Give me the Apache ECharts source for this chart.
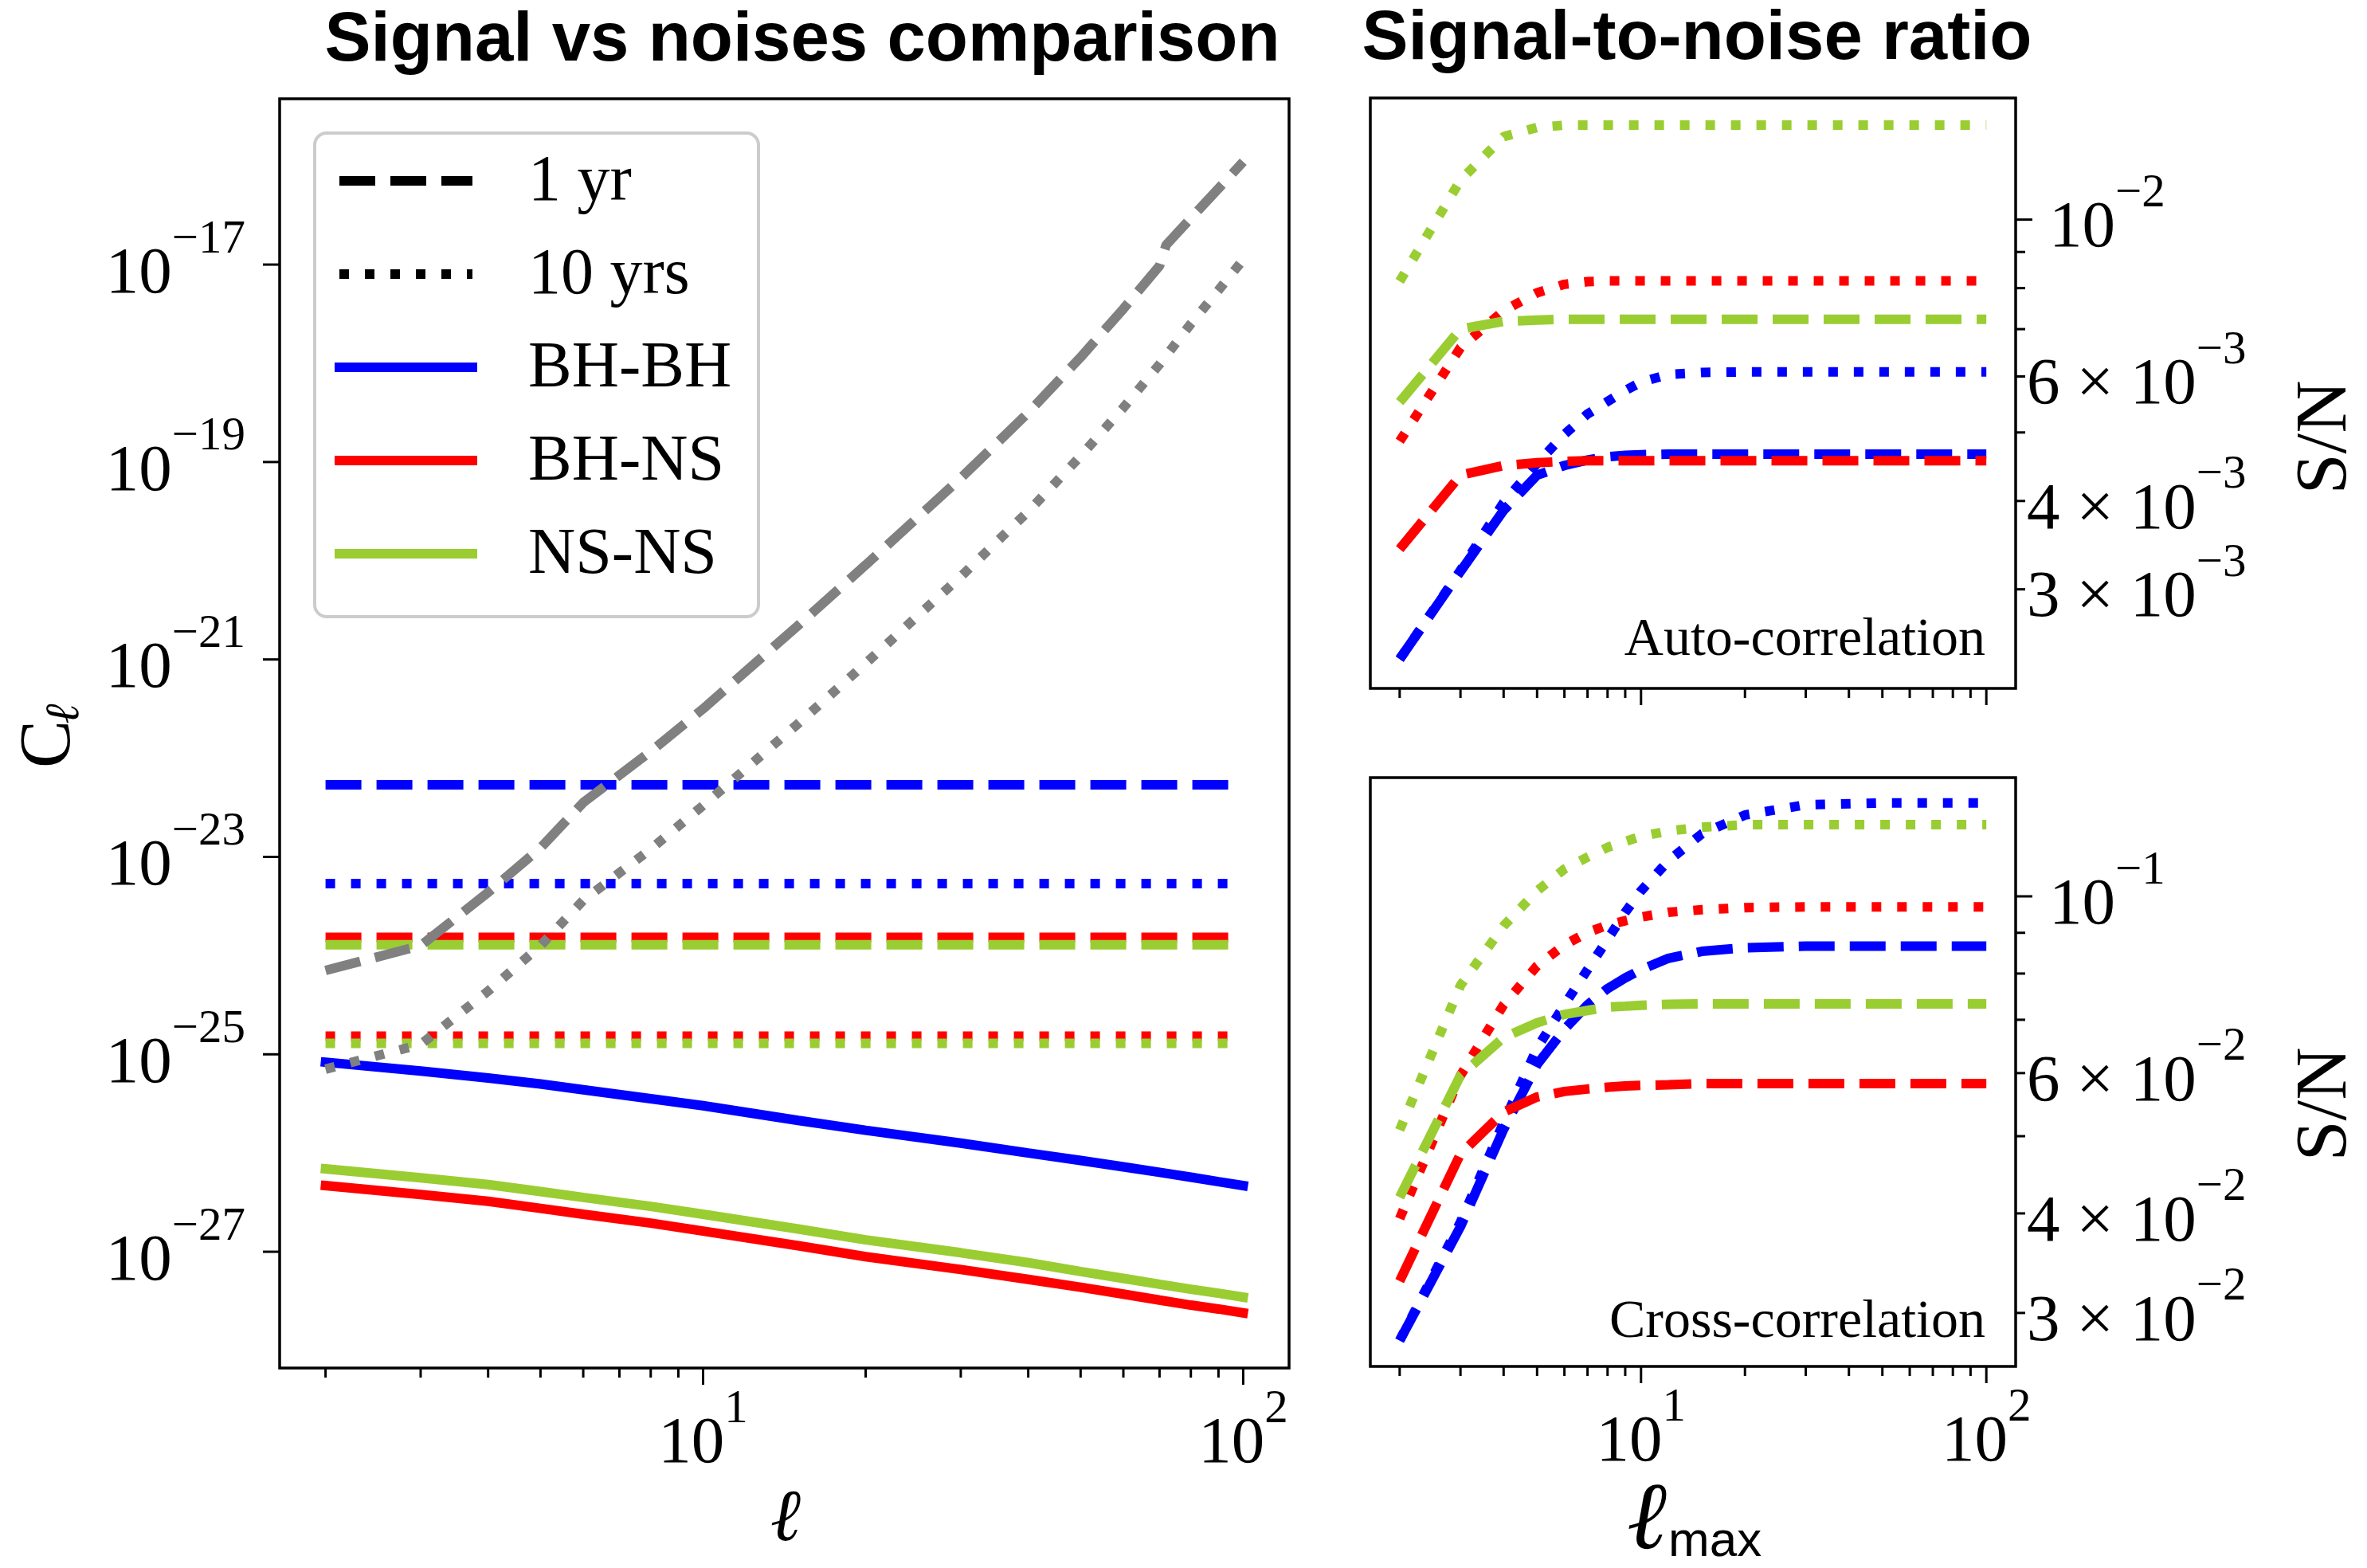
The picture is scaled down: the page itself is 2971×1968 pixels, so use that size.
<!DOCTYPE html>
<html>
<head>
<meta charset="utf-8">
<title>Signal vs noises comparison</title>
<script src="https://cdn.jsdelivr.net/npm/echarts@6/dist/echarts.min.js"></script>
<style>
  html, body { margin: 0; padding: 0; background: #fff; }
  #main { width: 2971px; height: 1968px; }
</style>
</head>
<body>
<div id="main"></div>
<script>
// ---- left panel: angular power spectra ----
const ell = [2, 3, 4, 5, 6, 8, 10, 15, 20, 30, 40, 50, 60, 70, 80, 90, 100];
const ellNoise1yr = [2, 3, 4, 5, 6, 8, 10, 15, 20, 30, 40, 50, 60, 70, 72, 80, 90, 100];
const ellSpan = [2, 100];

// signal C_l
const clBHBH = [8.32e-26, 6.76e-26, 5.75e-26, 5.01e-26, 4.37e-26, 3.55e-26, 3.02e-26, 2.14e-26, 1.70e-26, 1.26e-26, 1.00e-26, 8.41e-27, 7.24e-27, 6.38e-27, 5.69e-27, 5.13e-27, 4.68e-27];
const clBHNS = [4.68e-27, 3.80e-27, 3.24e-27, 2.75e-27, 2.40e-27, 1.95e-27, 1.62e-27, 1.15e-27, 8.91e-28, 6.61e-28, 5.25e-28, 4.37e-28, 3.72e-28, 3.24e-28, 2.88e-28, 2.63e-28, 2.40e-28];
const clNSNS = [6.92e-27, 5.62e-27, 4.79e-27, 4.07e-27, 3.55e-27, 2.88e-27, 2.40e-27, 1.70e-27, 1.32e-27, 9.77e-28, 7.76e-28, 6.31e-28, 5.37e-28, 4.68e-28, 4.17e-28, 3.80e-28, 3.47e-28];

// instrumental noise (gray)
const noise1yr = [7.08e-25, 1.26e-24, 4.37e-24, 1.23e-23, 3.55e-23, 1.17e-22, 3.16e-22, 2.21e-21, 9.06e-21, 6.87e-20, 3.16e-19, 1.15e-18, 3.56e-18, 9.70e-18, 1.58e-17, 2.95e-17, 5.89e-17, 1.10e-16];
const noise10yr = [7.08e-26, 1.26e-25, 4.37e-25, 1.26e-24, 3.63e-24, 1.20e-23, 3.31e-23, 2.24e-22, 9.12e-22, 6.92e-21, 3.16e-20, 1.15e-19, 3.55e-19, 9.77e-19, 2.51e-18, 5.50e-18, 1.12e-17];

// shot noise levels [1 yr, 10 yrs]
const shotBHBH = [5.37e-23, 5.37e-24];
const shotBHNS = [1.53e-24, 1.53e-25];
const shotNSNS = [1.29e-24, 1.29e-25];

// ---- right panels: S/N vs l_max ----
const lmax = [2, 3, 4, 5, 6, 7, 8, 9, 10, 12, 15, 20, 30, 50, 100];

// auto-correlation
const autoBHBH1 = [2.39e-3, 3.18e-3, 3.88e-3, 4.35e-3, 4.49e-3, 4.57e-3, 4.62e-3, 4.64e-3, 4.65e-3, 4.66e-3, 4.66e-3, 4.66e-3, 4.66e-3, 4.66e-3, 4.66e-3];
const autoBHBH10 = [2.39e-3, 3.19e-3, 3.98e-3, 4.52e-3, 4.97e-3, 5.31e-3, 5.53e-3, 5.73e-3, 5.89e-3, 6.04e-3, 6.08e-3, 6.09e-3, 6.09e-3, 6.09e-3, 6.09e-3];
const autoBHNS1 = [3.42e-3, 4.35e-3, 4.49e-3, 4.53e-3, 4.55e-3, 4.56e-3, 4.56e-3, 4.56e-3, 4.56e-3, 4.56e-3, 4.56e-3, 4.56e-3, 4.56e-3, 4.56e-3, 4.56e-3];
const autoBHNS10 = [4.86e-3, 6.59e-3, 7.43e-3, 7.88e-3, 8.10e-3, 8.17e-3, 8.19e-3, 8.19e-3, 8.19e-3, 8.19e-3, 8.19e-3, 8.19e-3, 8.19e-3, 8.19e-3, 8.19e-3];
const autoNSNS1 = [5.52e-3, 7.00e-3, 7.18e-3, 7.21e-3, 7.23e-3, 7.23e-3, 7.23e-3, 7.23e-3, 7.23e-3, 7.23e-3, 7.23e-3, 7.23e-3, 7.23e-3, 7.23e-3, 7.23e-3];
const autoNSNS10 = [8.18e-3, 1.137e-2, 1.31e-2, 1.35e-2, 1.36e-2, 1.36e-2, 1.36e-2, 1.36e-2, 1.36e-2, 1.36e-2, 1.36e-2, 1.36e-2, 1.36e-2, 1.36e-2, 1.36e-2];

// cross-correlation
const crossBHBH1 = [2.77e-2, 3.85e-2, 5.10e-2, 6.15e-2, 6.81e-2, 7.31e-2, 7.66e-2, 7.90e-2, 8.09e-2, 8.36e-2, 8.53e-2, 8.62e-2, 8.66e-2, 8.66e-2, 8.66e-2];
const crossBHBH10 = [2.77e-2, 3.90e-2, 5.20e-2, 6.45e-2, 7.31e-2, 8.09e-2, 8.83e-2, 9.55e-2, 0.1016, 0.1108, 0.1198, 0.1265, 0.1303, 0.1310, 0.1310];
const crossBHNS1 = [3.29e-2, 4.75e-2, 5.36e-2, 5.60e-2, 5.69e-2, 5.73e-2, 5.76e-2, 5.78e-2, 5.79e-2, 5.80e-2, 5.82e-2, 5.82e-2, 5.82e-2, 5.82e-2, 5.82e-2];
const crossBHNS10 = [3.94e-2, 5.96e-2, 7.31e-2, 8.18e-2, 8.69e-2, 9.01e-2, 9.20e-2, 9.32e-2, 9.42e-2, 9.55e-2, 9.62e-2, 9.68e-2, 9.70e-2, 9.70e-2, 9.70e-2];
const crossNSNS1 = [4.19e-2, 5.96e-2, 6.65e-2, 6.94e-2, 7.11e-2, 7.19e-2, 7.26e-2, 7.28e-2, 7.30e-2, 7.32e-2, 7.33e-2, 7.33e-2, 7.33e-2, 7.33e-2, 7.33e-2];
const crossNSNS10 = [5.09e-2, 7.73e-2, 9.18e-2, 0.1016, 0.1082, 0.1120, 0.1152, 0.1172, 0.1189, 0.1208, 0.1221, 0.1230, 0.1230, 0.1230, 0.1230];

// ---- ticks ----
const xMajorTicks = [10, 100];
const xMinorTicks = [2, 3, 4, 5, 6, 7, 8, 9, 20, 30, 40, 50, 60, 70, 80, 90];
const xTickLabels = [[10, '', '1'], [100, '', '2']];
const leftYTicks = [[1e-17, '', '−17'], [1e-19, '', '−19'], [1e-21, '', '−21'], [1e-23, '', '−23'], [1e-25, '', '−25'], [1e-27, '', '−27']];
const autoYMajor = [1e-2];
const autoYMinor = [3e-3, 4e-3, 5e-3, 6e-3, 7e-3, 8e-3, 9e-3];
const autoYLabels = [[1e-2, '', '−2'], [6e-3, '6 × ', '−3'], [4e-3, '4 × ', '−3'], [3e-3, '3 × ', '−3']];
const crossYMajor = [1e-1];
const crossYMinor = [3e-2, 4e-2, 5e-2, 6e-2, 7e-2, 8e-2, 9e-2];
const crossYLabels = [[1e-1, '', '−1'], [6e-2, '6 × ', '−2'], [4e-2, '4 × ', '−2'], [3e-2, '3 × ', '−2']];

const legendRows = [
  ['1 yr', '#000', 'dash'],
  ['10 yrs', '#000', 'dot'],
  ['BH-BH', '#0000ff', 'solid'],
  ['BH-NS', '#ff0000', 'solid'],
  ['NS-NS', '#9acd32', 'solid']
];

const BLUE = '#0000ff', RED = '#ff0000', GREEN = '#9acd32', GRAY = '#808080';
const SERIF = '"Liberation Serif", "Times New Roman", "DejaVu Serif", serif';
const SANS = '"Liberation Sans", Arial, Helvetica, sans-serif';
const LW = 12;
const DASH = [45, 19];
const DOT = [12, 20];

// axis bounds of each panel (log scale)
const bounds = [
  { xMin: 1.6446, xMax: 121.6, yMin: 6.64e-29, yMax: 4.78e-16 },
  { xMin: 1.6446, xMax: 121.6, yMin: 2.1727e-3, yMax: 1.4859e-2 },
  { xMin: 1.6446, xMax: 121.6, yMin: 2.5704e-2, yMax: 0.14093 }
];

function zip(xs, ys) { return xs.map((x, i) => [x, ys[i]]); }

function lineSeries(gi, data, color, style) {
  const type = style === 'dash' ? DASH : style === 'dot' ? DOT : 'solid';
  return {
    type: 'line', xAxisIndex: gi, yAxisIndex: gi, data: data,
    symbol: 'none', silent: true, animation: false,
    lineStyle: { color: color, width: LW, type: type, cap: style === 'solid' ? 'square' : 'butt' }
  };
}

const series = [
  lineSeries(0, zip(ellSpan, [shotBHBH[0], shotBHBH[0]]), BLUE, 'dash'),
  lineSeries(0, zip(ellSpan, [shotBHBH[1], shotBHBH[1]]), BLUE, 'dot'),
  lineSeries(0, zip(ellSpan, [shotBHNS[0], shotBHNS[0]]), RED, 'dash'),
  lineSeries(0, zip(ellSpan, [shotBHNS[1], shotBHNS[1]]), RED, 'dot'),
  lineSeries(0, zip(ellSpan, [shotNSNS[0], shotNSNS[0]]), GREEN, 'dash'),
  lineSeries(0, zip(ellSpan, [shotNSNS[1], shotNSNS[1]]), GREEN, 'dot'),
  lineSeries(0, zip(ell, clBHBH), BLUE, 'solid'),
  lineSeries(0, zip(ell, clBHNS), RED, 'solid'),
  lineSeries(0, zip(ell, clNSNS), GREEN, 'solid'),
  lineSeries(0, zip(ellNoise1yr, noise1yr), GRAY, 'dash'),
  lineSeries(0, zip(ell, noise10yr), GRAY, 'dot'),

  lineSeries(1, zip(lmax, autoBHBH1), BLUE, 'dash'),
  lineSeries(1, zip(lmax, autoBHBH10), BLUE, 'dot'),
  lineSeries(1, zip(lmax, autoBHNS1), RED, 'dash'),
  lineSeries(1, zip(lmax, autoBHNS10), RED, 'dot'),
  lineSeries(1, zip(lmax, autoNSNS1), GREEN, 'dash'),
  lineSeries(1, zip(lmax, autoNSNS10), GREEN, 'dot'),

  lineSeries(2, zip(lmax, crossBHBH1), BLUE, 'dash'),
  lineSeries(2, zip(lmax, crossBHBH10), BLUE, 'dot'),
  lineSeries(2, zip(lmax, crossBHNS1), RED, 'dash'),
  lineSeries(2, zip(lmax, crossBHNS10), RED, 'dot'),
  lineSeries(2, zip(lmax, crossNSNS1), GREEN, 'dash'),
  lineSeries(2, zip(lmax, crossNSNS10), GREEN, 'dot')
];

const hidden = { axisLine: { show: false }, axisTick: { show: false }, axisLabel: { show: false }, splitLine: { show: false } };
const frame = { show: true, borderColor: '#000', borderWidth: 3.5, backgroundColor: 'transparent' };

const option = {
  backgroundColor: '#fff',
  animation: false,
  grid: [
    Object.assign({ left: 351, top: 124, width: 1267, height: 1593 }, frame),
    Object.assign({ left: 1720, top: 123, width: 810, height: 741 }, frame),
    Object.assign({ left: 1720, top: 976, width: 810, height: 739 }, frame)
  ],
  xAxis: bounds.map((b, i) => Object.assign({ type: 'log', logBase: 10, gridIndex: i, min: b.xMin, max: b.xMax }, hidden)),
  yAxis: bounds.map((b, i) => Object.assign({ type: 'log', logBase: 10, gridIndex: i, min: b.yMin, max: b.yMax }, hidden)),
  series: series
};

const chart = echarts.init(document.getElementById('main'));
chart.setOption(option);

// ---- decorations: ticks, labels, legend, titles ----
const g = [];
function seg(x1, y1, x2, y2, w) {
  g.push({ type: 'line', silent: true, z: 50, shape: { x1: x1, y1: y1, x2: x2, y2: y2 }, style: { stroke: '#000', lineWidth: w || 3 } });
}
function txt(x, y, text, s, rotation) {
  g.push({
    type: 'text', x: x, y: y, rotation: rotation || 0, silent: true, z: 50,
    style: Object.assign({ text: text, fill: '#000', align: 'center', verticalAlign: 'middle', fontFamily: SERIF }, s)
  });
}
function powLabel(x, y, mant, exp, align) {
  g.push({
    type: 'text', x: x, y: y, silent: true, z: 50,
    style: {
      text: '{b|' + mant + '10}{s|' + exp + '}',
      align: align, verticalAlign: 'middle',
      rich: {
        b: { fontFamily: SERIF, fontSize: 83, lineHeight: 147, fill: '#000' },
        s: { fontFamily: SERIF, fontSize: 59, padding: [0, 0, 88, 0], fill: '#000' }
      }
    }
  });
}
const px = (gi, x, y) => chart.convertToPixel({ gridIndex: gi }, [x, y]);
const MAJ = 21, MIN = 12;

bounds.forEach((b, gi) => {
  xMajorTicks.forEach(v => { const p = px(gi, v, b.yMin); seg(p[0], p[1], p[0], p[1] + MAJ); });
  xMinorTicks.forEach(v => { const p = px(gi, v, b.yMin); seg(p[0], p[1], p[0], p[1] + MIN); });
  if (gi !== 1) {
    xTickLabels.forEach(t => { const p = px(gi, t[0], b.yMin); powLabel(p[0], p[1] + 96, t[1], t[2], 'center'); });
  }
});

leftYTicks.forEach(t => {
  const p = px(0, bounds[0].xMin, t[0]);
  seg(p[0], p[1], p[0] - MAJ, p[1]);
  powLabel(p[0] - 43, p[1] + 13, t[1], t[2], 'right');
});

function rightAxis(gi, major, minor, labels) {
  const b = bounds[gi];
  major.forEach(v => { const p = px(gi, b.xMax, v); seg(p[0], p[1], p[0] + MAJ, p[1]); });
  minor.forEach(v => { const p = px(gi, b.xMax, v); seg(p[0], p[1], p[0] + MIN, p[1]); });
  labels.forEach(t => {
    const p = px(gi, b.xMax, t[0]);
    powLabel(p[0] + (t[1] ? 14 : 42), p[1] + 12, t[1], t[2], 'left');
  });
}
rightAxis(1, autoYMajor, autoYMinor, autoYLabels);
rightAxis(2, crossYMajor, crossYMinor, crossYLabels);

// titles
txt(1007, 52, 'Signal vs noises comparison', { fontFamily: SANS, fontWeight: 'bold', fontSize: 87 });
txt(2130, 50, 'Signal-to-noise ratio', { fontFamily: SANS, fontWeight: 'bold', fontSize: 87 });

// axis names
txt(63, 934, 'C', { fontSize: 90 }, Math.PI / 2);
txt(82, 896, 'ℓ', { fontSize: 60, fontStyle: 'italic' }, Math.PI / 2);
txt(986, 1909, 'ℓ', { fontSize: 92, fontStyle: 'italic' });
txt(2067, 1911, 'ℓ', { fontSize: 120, fontStyle: 'italic' });
txt(2094, 1936, 'max', { fontFamily: SANS, fontSize: 62, align: 'left' });
txt(2920, 549, 'S/N', { fontSize: 92 }, Math.PI / 2);
txt(2920, 1386, 'S/N', { fontSize: 92 }, Math.PI / 2);

// panel annotations
txt(2492, 804, 'Auto-correlation', { fontSize: 68, align: 'right' });
txt(2492, 1660, 'Cross-correlation', { fontSize: 68, align: 'right' });

// legend
g.push({ type: 'rect', silent: true, z: 40, shape: { x: 395, y: 167, width: 557, height: 607, r: 15 }, style: { fill: 'rgba(255,255,255,0.8)', stroke: '#cccccc', lineWidth: 4 } });
legendRows.forEach((row, i) => {
  const y = 227 + i * 117;
  const dash = row[2] === 'dash' ? DASH : row[2] === 'dot' ? DOT : null;
  g.push({
    type: 'line', silent: true, z: 45, shape: { x1: 426, y1: y, x2: 593, y2: y },
    style: { stroke: row[1], lineWidth: LW, lineDash: dash, lineCap: dash ? 'butt' : 'square' }
  });
  txt(663, y + 2, row[0], { fontSize: 82, align: 'left' });
});

chart.setOption({ graphic: { elements: g } });
</script>
</body>
</html>
